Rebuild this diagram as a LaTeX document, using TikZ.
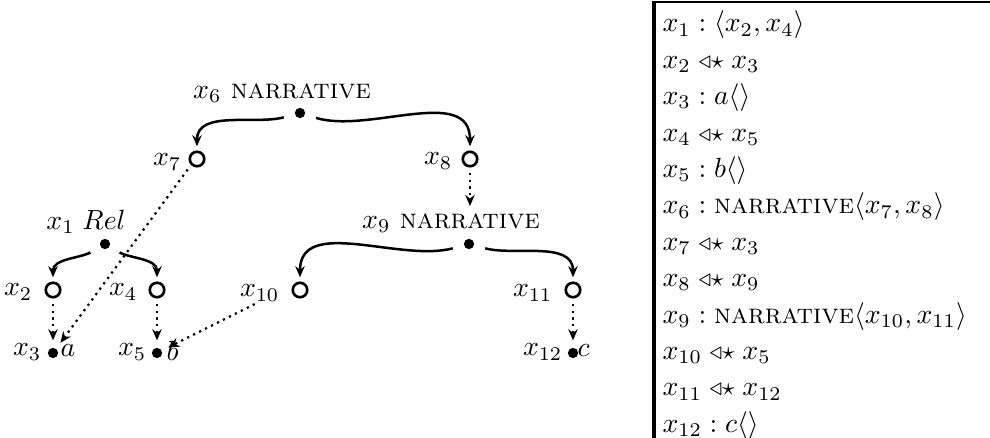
\documentclass[tikz,border=0pt]{standalone}
\usepackage{graphicx}
\usetikzlibrary{arrows.meta}
\newcommand{\sublink}{\mathrel{\scalebox{.9}{$\triangleleft\star$}}}
\tikzset{
  dot/.style={circle, fill, inner sep=0pt, minimum size=3.7pt},
  hole/.style={circle, draw, line width=.95pt, inner sep=0pt, minimum size=5.2pt},
  txt/.style={inner sep=0pt},
  branch/.style={line width=.9pt, -{Stealth[length=4pt,width=3.4pt]}, shorten <=4pt, shorten >=1.5pt},
  link/.style={line width=.8pt, dash pattern=on .8pt off 1.6pt, -{Stealth[length=4pt,width=3.4pt]}, shorten <=2pt, shorten >=2.5pt}
}
\begin{document}
\begin{tikzpicture}[x=0.36pt, y=0.36pt]
    \useasboundingbox (0,0) rectangle (990,438);

    % Tree nodes
    \node[dot] (x6) at (300,325) {};
    \node[hole] (x7) at (197,279) {};
    \node[hole] (x8) at (470,279) {};
    \node[dot] (x9) at (469,194) {};
    \node[dot] (x1) at (105,194) {};
    \node[hole] (x2) at (53,148) {};
    \node[hole] (x4) at (157,148) {};
    \node[hole] (x10) at (300,148) {};
    \node[hole] (x11) at (573,148) {};
    \node[dot] (x3) at (53,85) {};
    \node[dot] (x5) at (157,85) {};
    \node[dot] (x12) at (573,85) {};

    % Labels
    \node[txt] (t6) at (282,345) {$x_6$ \textsc{narrative}};
    \node[txt] (t9) at (451,215) {$x_9$ \textsc{narrative}};
    \node[txt] (t1) at (86,216) {$x_1\;Rel$};
    \node[txt, left] (t7) at (182,276) {$x_7$};
    \node[txt, left] (t8) at (453,277) {$x_8$};
    \node[txt, left] (t2) at (33,146) {$x_2$};
    \node[txt, left] (t4) at (138,146) {$x_4$};
    \node[txt, left] (t10) at (280,145) {$x_{10}$};
    \node[txt, left] (t11) at (553,145) {$x_{11}$};
    \node[txt, left] (t3) at (42,86) {$x_3$};
    \node[txt, left] (t5) at (147,86) {$x_5$};
    \node[txt, left] (t12) at (563,86) {$x_{12}$};
    \node[txt, right] (ta) at (60,87) {$a$};
    \node[txt, right] (tb) at (166,87) {$b$};
    \node[txt, right] (tc) at (577,87) {$c$};

    % Daughters
    \draw[branch] (x6) to[out=-165, in=90] (x7);
    \draw[branch] (x6) to[out=-17, in=90] (x8);
    \draw[branch] (x9) to[out=-165, in=90] (x10);
    \draw[branch] (x9) to[out=-15, in=90] (x11);
    \draw[branch] (x1) to[out=-150, in=90] (x2);
    \draw[branch] (x1) to[out=-30, in=90] (x4);

    % Dominance links
    \draw[link] (x2) -- (x3);
    \draw[link] (x4) -- (x5);
    \draw[link] (x11) -- (x12);
    \draw[link] (x8) -- (x8 |- t9.north);
    \draw[link] (x7.south west) -- (x3);
    \draw[link] (t10.south) -- (x5);

    % Constraint list
    \draw[line width=1pt] (654,436) -- (990,436);
    \draw[line width=1.4pt] (654,437) -- (654,0);
    \foreach \row [count=\i] in {
        {$x_1 : \langle x_2, x_4\rangle$},
        {$x_2 \sublink x_3$},
        {$x_3 : a\langle\rangle$},
        {$x_4 \sublink x_5$},
        {$x_5 : b\langle\rangle$},
        {$x_6 : \textsc{narrative}\langle x_7, x_8\rangle$},
        {$x_7 \sublink x_3$},
        {$x_8 \sublink x_9$},
        {$x_9 : \textsc{narrative}\langle x_{10}, x_{11}\rangle$},
        {$x_{10} \sublink x_5$},
        {$x_{11} \sublink x_{12}$},
        {$x_{12} : c\langle\rangle$}}
        \node[txt, anchor=base west] (r\i) at (662,{406-36.4*(\i-1)}) {\row};
\end{tikzpicture}
\end{document}
